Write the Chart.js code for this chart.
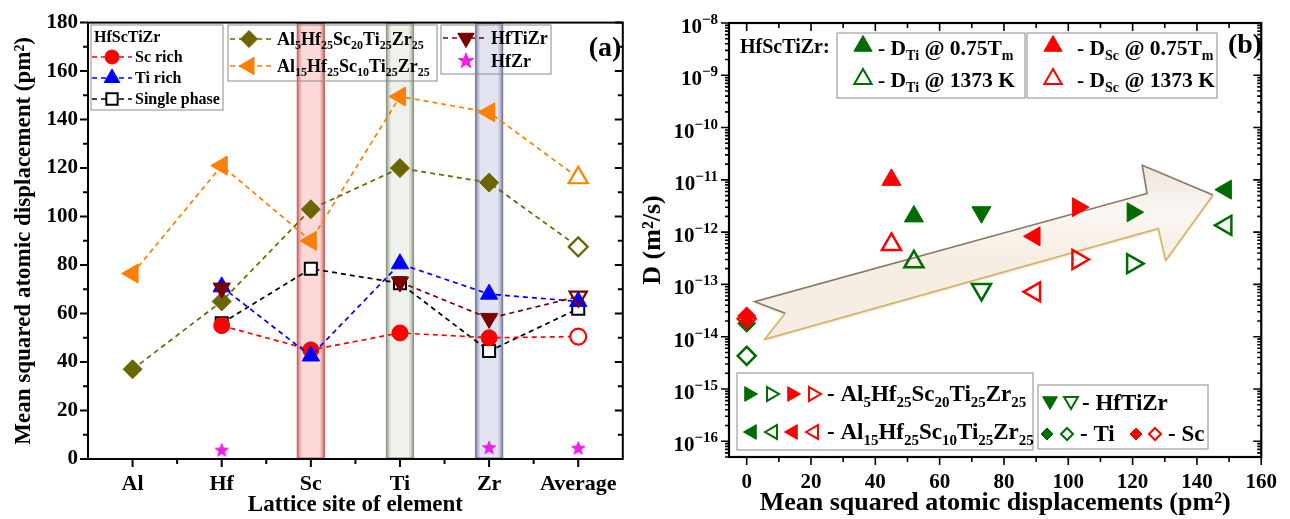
<!DOCTYPE html>
<html>
<head>
<meta charset="utf-8">
<title>MSD and diffusivity</title>
<script src="https://cdn.jsdelivr.net/npm/chart.js@4.4.1/dist/chart.umd.min.js"></script>
<style>
  html, body { margin: 0; padding: 0; background: #fff; }
  #wrap { position: relative; width: 1290px; height: 519px; overflow: hidden; }
  #boxLeft { position: absolute; left: 0; top: 0; width: 636px; height: 519px; }
  #boxRight { position: absolute; left: 636px; top: 0; width: 654px; height: 519px; }
</style>
</head>
<body>
<div id="wrap">
  <div id="boxLeft"><canvas id="msdChart"></canvas></div>
  <div id="boxRight"><canvas id="diffChart"></canvas></div>
</div>
<script>

/*****************************/
/************ DATA ***********/
/*****************************/

// panel (a) - mean squared atomic displacement per lattice site (pm^2)
var sites = ['Al', 'Hf', 'Sc', 'Ti', 'Zr', 'Average'];
var scRich      = [null, 55, 45, 52, 50, 50.5];
var tiRich      = [null, 71, 42.5, 80.5, 68, 65];
var singlePhase = [null, 56, 78.5, 72.5, 44.5, 62];
var al5Sc20     = [37, 65, 103, 120, 114, 87.5];
var al15Sc10    = [76.5, 121, 90, 149.5, 143, 116];
var hfTiZr      = [null, 70.5, null, 73, 58, 67];
var hfZr        = [null, 3.5, null, null, 4.5, 4.3];
var msdTicks    = [0, 20, 40, 60, 80, 100, 120, 140, 160, 180];

// panel (b) - diffusivity vs MSD
// Ti: HfScTiZr, Al5, Al15, HfTiZr, pure Ti
var msdTi   = [52, 120, 149, 73, 0];
var dTiTm   = [2.0e-12, 2.4e-12, 6.5e-12, 2.4e-12, 1.8e-14];
var dTi1373 = [2.7e-13, 2.5e-13, 1.35e-12, 8.0e-14, 4.3e-15];
// Sc: HfScTiZr, Al5, Al15, pure Sc
var msdSc   = [45, 103, 89.5, 0];
var dScTm   = [1.0e-11, 3.0e-12, 8.3e-13, 2.5e-14];
var dSc1373 = [5.8e-13, 3.0e-13, 7.2e-14, 2.2e-14];
var msdAxisTicks = [0, 20, 40, 60, 80, 100, 120, 140, 160];
var dExponents   = [-16, -15, -14, -13, -12, -11, -10, -9, -8];

/*****************************/
/*********** STYLE ***********/
/*****************************/

var serif = "'Liberation Serif', 'Times New Roman', serif";
var cRed = '#ff0000', cBlue = '#0000ff', cBlack = '#000000', cOlive = '#6b6700';
var cOrange = '#ff7f00', cMaroon = '#7a0000', cMagenta = '#ee1ee6', cGreen = '#006b00';

Chart.defaults.font.family = serif;
Chart.defaults.font.weight = 'bold';
Chart.defaults.color = '#000';
Chart.defaults.animation = false;

// marker drawing used by legends and by the star image
function drawMarker(ctx, shape, x, y, r, rot, fill, stroke, lw) {
  ctx.save();
  ctx.translate(x, y);
  ctx.rotate((rot || 0) * Math.PI / 180);
  ctx.beginPath();
  if (shape === 'circle') {
    ctx.arc(0, 0, r, 0, 2 * Math.PI);
  } else if (shape === 'triangle') {
    for (var k = 0; k < 3; k++) {
      var a = k * 2 * Math.PI / 3;
      if (k === 0) ctx.moveTo(Math.sin(a) * r, -Math.cos(a) * r);
      else ctx.lineTo(Math.sin(a) * r, -Math.cos(a) * r);
    }
  } else if (shape === 'rect') {
    var s = r * Math.SQRT1_2;
    ctx.rect(-s, -s, 2 * s, 2 * s);
  } else if (shape === 'rectRot') {
    ctx.moveTo(0, -r); ctx.lineTo(r, 0); ctx.lineTo(0, r); ctx.lineTo(-r, 0);
  } else if (shape === 'star') {
    for (var j = 0; j < 10; j++) {
      var rr = j % 2 === 0 ? r : r * 0.42;
      var b = j * Math.PI / 5;
      if (j === 0) ctx.moveTo(Math.sin(b) * rr, -Math.cos(b) * rr);
      else ctx.lineTo(Math.sin(b) * rr, -Math.cos(b) * rr);
    }
  }
  ctx.closePath();
  if (fill) { ctx.fillStyle = fill; ctx.fill(); }
  if (stroke) { ctx.strokeStyle = stroke; ctx.lineWidth = lw || 1; ctx.stroke(); }
  ctx.restore();
}

// text with subscripts written between braces, e.g. 'Al{5}Hf{25}'
function drawRich(ctx, str, x, yMid, size) {
  var parts = str.split(/(\{[^}]*\})/);
  var base = yMid + size * 0.32;
  ctx.textAlign = 'left';
  ctx.textBaseline = 'alphabetic';
  ctx.fillStyle = '#000';
  parts.forEach(function (p) {
    if (!p) return;
    var sub = p.charAt(0) === '{';
    var t = sub ? p.slice(1, -1) : p;
    var fs = sub ? Math.round(size * 0.66) : size;
    ctx.font = 'bold ' + fs + 'px ' + serif;
    ctx.fillText(t, x, sub ? base + size * 0.26 : base);
    x += ctx.measureText(t).width;
  });
}

function starImage(r, color) {
  var c = document.createElement('canvas');
  c.width = 2 * r + 2; c.height = 2 * r + 2;
  drawMarker(c.getContext('2d'), 'star', r + 1, r + 1, r, 0, color, color, 1);
  return c;
}

// fills: last point (Average) drawn open
function avgOpen(color, openFill) {
  return sites.map(function (s, i) { return i === sites.length - 1 ? (openFill || '#fff') : color; });
}
function avgOpenWidth() {
  return sites.map(function (s, i) { return i === sites.length - 1 ? 2.2 : 1; });
}

function lineSet(label, data, color, shape, radius, extra) {
  var ds = {
    label: label,
    data: data,
    borderColor: color,
    borderWidth: 1.7,
    borderDash: [5, 4],
    pointStyle: shape,
    pointRadius: radius,
    pointBorderColor: color,
    pointBackgroundColor: avgOpen(color),
    pointBorderWidth: avgOpenWidth(),
    spanGaps: false
  };
  for (var k in extra) ds[k] = extra[k];
  return ds;
}

/*****************************/
/********* PANEL (a) *********/
/*****************************/

var bands = [
  { site: 2, light: 'rgba(248,194,192,0.62)', edge: 'rgba(200,80,75,0.85)' },
  { site: 3, light: 'rgba(228,233,222,0.6)',  edge: 'rgba(130,140,118,0.85)' },
  { site: 4, light: 'rgba(210,214,233,0.65)', edge: 'rgba(105,110,150,0.85)' }
];

var panelAPlugin = {
  id: 'panelA',
  beforeDatasetsDraw: function (chart) {
    var ctx = chart.ctx, a = chart.chartArea, xs = chart.scales.x;
    bands.forEach(function (b) {
      var cx = xs.getPixelForValue(b.site), hw = 13.5;
      var g = ctx.createLinearGradient(cx - hw, 0, cx + hw, 0);
      g.addColorStop(0, b.edge); g.addColorStop(0.18, b.light);
      g.addColorStop(0.82, b.light); g.addColorStop(1, b.edge);
      ctx.save();
      ctx.fillStyle = g;
      ctx.fillRect(cx - hw, a.top + 1, 2 * hw, a.bottom - a.top - 2);
      ctx.strokeStyle = b.edge; ctx.lineWidth = 1.2;
      ctx.strokeRect(cx - hw, a.top + 1, 2 * hw, a.bottom - a.top - 2);
      ctx.restore();
    });
  },
  afterDraw: function (chart) {
    var ctx = chart.ctx, a = chart.chartArea, xs = chart.scales.x, ys = chart.scales.y;
    ctx.save();
    ctx.strokeStyle = '#000';
    ctx.lineWidth = 2;
    ctx.strokeRect(a.left, a.top, a.right - a.left, a.bottom - a.top);
    // y ticks: outward on the left, inward on the right
    ctx.beginPath();
    for (var v = 0; v <= 180; v += 10) {
      var y = ys.getPixelForValue(v), len = v % 20 === 0 ? 8 : 5;
      ctx.moveTo(a.left, y); ctx.lineTo(a.left - len, y);
      ctx.moveTo(a.right, y); ctx.lineTo(a.right - len, y);
    }
    // x ticks: centres long, boundaries short
    for (var i = 0; i < sites.length; i++) {
      var x = xs.getPixelForValue(i);
      ctx.moveTo(x, a.bottom); ctx.lineTo(x, a.bottom + 8);
      if (i < sites.length - 1) {
        var xb = (x + xs.getPixelForValue(i + 1)) / 2;
        ctx.moveTo(xb, a.bottom); ctx.lineTo(xb, a.bottom + 5);
      }
    }
    ctx.stroke();

    // legends
    ctx.strokeStyle = '#8a8a8a';
    ctx.lineWidth = 1;
    ctx.strokeRect(91, 25, 132, 85);
    ctx.strokeRect(228, 25, 209, 56);
    ctx.strokeRect(441, 25, 110, 49);
    ctx.fillStyle = '#000';
    ctx.font = 'bold 16px ' + serif;
    ctx.textBaseline = 'middle';
    ctx.fillText('HfScTiZr', 94, 38);

    var rows = [
      { c: cRed, s: 'circle', r: 7, rot: 0, y: 57, l0: 92, l1: 132, m: 112, t: 135, txt: 'Sc rich', fs: 16 },
      { c: cBlue, s: 'triangle', r: 9, rot: 0, y: 78, l0: 92, l1: 132, m: 112, t: 135, txt: 'Ti rich', fs: 16 },
      { c: cBlack, s: 'rect', r: 8, rot: 0, y: 99, l0: 92, l1: 132, m: 112, t: 135, txt: 'Single phase', fs: 16, open: true },
      { c: cOlive, s: 'rectRot', r: 8.5, rot: 0, y: 39, l0: 230, l1: 273, m: 249, t: 277, txt: 'Al{5}Hf{25}Sc{20}Ti{25}Zr{25}', fs: 18 },
      { c: cOrange, s: 'triangle', r: 10, rot: -90, y: 66, l0: 230, l1: 273, m: 249, t: 277, txt: 'Al{15}Hf{25}Sc{10}Ti{25}Zr{25}', fs: 18 },
      { c: cMaroon, s: 'triangle', r: 9.5, rot: 180, y: 38, l0: 443, l1: 487, m: 466, t: 491, txt: 'HfTiZr', fs: 18 },
      { c: cMagenta, s: 'star', r: 8, rot: 0, y: 61, l0: 0, l1: 0, m: 466, t: 491, txt: 'HfZr', fs: 18 }
    ];
    rows.forEach(function (row) {
      if (row.l1 > row.l0) {
        ctx.save();
        ctx.strokeStyle = row.c; ctx.lineWidth = 1.7; ctx.setLineDash([5, 4]);
        ctx.beginPath(); ctx.moveTo(row.l0, row.y); ctx.lineTo(row.l1, row.y); ctx.stroke();
        ctx.restore();
      }
      drawMarker(ctx, row.s, row.m, row.y, row.r, row.rot, row.open ? '#fff' : row.c, row.c, row.open ? 2 : 1);
      drawRich(ctx, row.txt, row.t, row.y, row.fs);
    });

    ctx.font = 'bold 28px ' + serif;
    ctx.textAlign = 'center';
    ctx.textBaseline = 'middle';
    ctx.fillText('(a)', 605, 49);
    ctx.restore();
  }
};

new Chart(document.getElementById('msdChart'), {
  type: 'line',
  data: {
    labels: sites,
    datasets: [
      lineSet('HfTiZr', hfTiZr, cMaroon, 'triangle', 10,
        { pointRotation: 180, pointBackgroundColor: avgOpen(cMaroon, 'rgba(255,255,255,0)') }),
      lineSet('Ti rich', tiRich, cBlue, 'triangle', 10,
        { pointBackgroundColor: cBlue, pointBorderWidth: 1 }),
      lineSet('Sc rich', scRich, cRed, 'circle', 8),
      lineSet('Single phase', singlePhase, cBlack, 'rect', 8.5,
        { pointBackgroundColor: '#fff', pointBorderWidth: 2 }),
      lineSet('Al5Hf25Sc20Ti25Zr25', al5Sc20, cOlive, 'rectRot', 9.5),
      lineSet('Al15Hf25Sc10Ti25Zr25', al15Sc10, cOrange, 'triangle', 11,
        { pointRotation: [-90, -90, -90, -90, -90, 0] }),
      { label: 'HfZr', data: hfZr, showLine: false, pointStyle: starImage(7, cMagenta),
        borderColor: cMagenta, backgroundColor: cMagenta }
    ]
  },
  options: {
    responsive: true,
    maintainAspectRatio: false,
    layout: { padding: { top: 22, right: 6, left: 0, bottom: 0 } },
    plugins: { legend: { display: false }, tooltip: { enabled: false } },
    scales: {
      x: {
        type: 'category',
        offset: true,
        grid: { display: false, drawTicks: false },
        border: { display: false },
        ticks: { font: { size: 22, weight: 'bold' }, padding: 12, color: '#000' },
        title: { display: true, text: 'Lattice site of element', font: { size: 23, weight: 'bold' }, padding: { top: 0, bottom: 0 }, color: '#000' },
        afterFit: function (scale) { scale.height = 60; }
      },
      y: {
        min: 0, max: 180,
        grid: { display: false, drawTicks: false },
        border: { display: false },
        afterBuildTicks: function (scale) {
          scale.ticks = msdTicks.map(function (v) { return { value: v }; });
        },
        ticks: { font: { size: 21, weight: 'bold' }, padding: 10, color: '#000' },
        title: { display: true, text: 'Mean squared atomic displacement (pm\u00b2)', font: { size: 23, weight: 'bold' }, padding: { top: 10, bottom: 0 }, color: '#000' },
        afterFit: function (scale) { scale.width = 88; }
      }
    }
  },
  plugins: [panelAPlugin]
});

/*****************************/
/********* PANEL (b) *********/
/*****************************/

function pts(xs, ys) {
  return xs.map(function (x, i) { return { x: x, y: ys[i] }; });
}

var tiShapes = ['triangle', 'triangle', 'triangle', 'triangle', 'rectRot'];
var tiRot = [0, 90, -90, 180, 0];
var tiRad = [11, 11, 11, 11, 9];
var scShapes = ['triangle', 'triangle', 'triangle', 'rectRot'];
var scRot = [0, 90, -90, 0];
var scRad = [11, 11, 11, 9];

// trend arrow outline in data units [msd, log10 D]
var arrowOutline = [[2.5, -13.33], [124.5, -11.26], [123, -10.72], [145, -11.29],
  [130.3, -12.54], [128, -11.93], [5.6, -14.05], [12, -13.55]];

var panelBPlugin = {
  id: 'panelB',
  beforeDatasetsDraw: function (chart) {
    var ctx = chart.ctx, xs = chart.scales.x, ys = chart.scales.y;
    var p = arrowOutline.map(function (q) {
      return [xs.getPixelForValue(q[0]), ys.getPixelForValue(Math.pow(10, q[1]))];
    });
    ctx.save();
    var g = ctx.createLinearGradient(0, p[2][1], 0, p[4][1]);
    g.addColorStop(0, '#efe6db'); g.addColorStop(0.5, '#faf6f1'); g.addColorStop(1, '#f6eee3');
    ctx.beginPath();
    p.forEach(function (q, i) { if (i === 0) ctx.moveTo(q[0], q[1]); else ctx.lineTo(q[0], q[1]); });
    ctx.closePath();
    ctx.shadowColor = 'rgba(110,90,60,0.35)'; ctx.shadowBlur = 3; ctx.shadowOffsetY = 1;
    ctx.fillStyle = g; ctx.fill();
    ctx.shadowColor = 'transparent';
    // top edges grey-brown, bottom edges golden
    ctx.lineWidth = 1.6;
    ctx.strokeStyle = '#877a68';
    ctx.beginPath(); ctx.moveTo(p[7][0], p[7][1]); ctx.lineTo(p[0][0], p[0][1]);
    ctx.lineTo(p[1][0], p[1][1]); ctx.lineTo(p[2][0], p[2][1]); ctx.lineTo(p[3][0], p[3][1]); ctx.stroke();
    ctx.strokeStyle = '#d6b25e';
    ctx.beginPath(); ctx.moveTo(p[3][0], p[3][1]); ctx.lineTo(p[4][0], p[4][1]);
    ctx.lineTo(p[5][0], p[5][1]); ctx.lineTo(p[6][0], p[6][1]); ctx.lineTo(p[7][0], p[7][1]); ctx.stroke();
    ctx.restore();
  },
  afterDraw: function (chart) {
    var ctx = chart.ctx, a = chart.chartArea, xs = chart.scales.x, ys = chart.scales.y;
    ctx.save();
    ctx.strokeStyle = '#000';
    ctx.lineWidth = 2.2;
    ctx.strokeRect(a.left, a.top, a.right - a.left, a.bottom - a.top);
    ctx.lineWidth = 1.6;
    ctx.beginPath();
    for (var v = 0; v <= 160; v += 10) {
      var x = xs.getPixelForValue(v), len = v % 20 === 0 ? 8 : 5;
      ctx.moveTo(x, a.bottom); ctx.lineTo(x, a.bottom + len);
      ctx.moveTo(x, a.top); ctx.lineTo(x, a.top + len);
    }
    for (var e = -17; e <= -8; e++) {
      for (var m = 1; m <= 9; m++) {
        var val = m * Math.pow(10, e);
        if (val < ys.min || val > ys.max * 1.0001) continue;
        var y = ys.getPixelForValue(val), l = m === 1 ? 8 : 4;
        ctx.moveTo(a.left, y); ctx.lineTo(a.left - l, y);
        ctx.moveTo(a.right, y); ctx.lineTo(a.right - l, y);
      }
    }
    ctx.stroke();

    // decade labels 10^n with a raised exponent, placed on the scale's ticks
    ctx.fillStyle = '#000';
    ctx.textBaseline = 'alphabetic';
    ys.ticks.forEach(function (t) {
      var ty = ys.getPixelForValue(t.value);
      var ex = '\u2212' + String(Math.abs(Math.round(Math.log10(t.value))));
      ctx.font = 'bold 15px ' + serif;
      var ew = ctx.measureText(ex).width;
      var xr = a.left - 11;
      ctx.textAlign = 'left';
      ctx.fillText(ex, xr - ew, ty + 1);
      ctx.font = 'bold 21px ' + serif;
      ctx.textAlign = 'right';
      ctx.fillText('10', xr - ew, ty + 10);
    });

    // legends (local canvas pixels)
    ctx.font = 'bold 20px ' + serif;
    ctx.textAlign = 'left';
    ctx.textBaseline = 'middle';
    ctx.fillText('HfScTiZr:', 104, 48);
    ctx.strokeStyle = '#8a8a8a';
    ctx.lineWidth = 1;
    ctx.strokeRect(201, 33, 188, 65);
    ctx.strokeRect(391, 33, 190, 65);
    ctx.strokeRect(101, 373, 296, 77);
    ctx.strokeRect(402, 385, 170, 64);

    var tr = 'rgba(0,0,0,0)';
    var marks = [
      [cGreen, 'triangle', 10.5, 0, true, 227, 46], [cGreen, 'triangle', 10, 0, false, 227, 79],
      [cRed, 'triangle', 10.5, 0, true, 417, 46], [cRed, 'triangle', 10, 0, false, 417, 79],
      [cGreen, 'triangle', 8.5, 90, true, 113, 394], [cGreen, 'triangle', 8, 90, false, 135, 394],
      [cRed, 'triangle', 8.5, 90, true, 156, 394], [cRed, 'triangle', 8, 90, false, 177, 394],
      [cGreen, 'triangle', 8.5, -90, true, 116, 432], [cGreen, 'triangle', 8, -90, false, 137, 432],
      [cRed, 'triangle', 8.5, -90, true, 157, 432], [cRed, 'triangle', 8, -90, false, 178, 432],
      [cGreen, 'triangle', 8.5, 180, true, 414, 401], [cGreen, 'triangle', 8, 180, false, 435, 401],
      [cGreen, 'rectRot', 6, 0, true, 411, 434], [cGreen, 'rectRot', 6, 0, false, 431, 434],
      [cRed, 'rectRot', 6, 0, true, 500, 434], [cRed, 'rectRot', 6, 0, false, 519, 434]
    ];
    marks.forEach(function (k) {
      drawMarker(ctx, k[1], k[5], k[6], k[2], k[3], k[4] ? k[0] : tr, k[0], k[4] ? 1 : 2);
    });
    var texts = [
      ['- D{Ti} @ 0.75T{m}', 242, 48, 21.5], ['- D{Ti} @ 1373 K', 242, 80, 21.5],
      ['- D{Sc} @ 0.75T{m}', 441, 48, 21.5], ['- D{Sc} @ 1373 K', 441, 80, 21.5],
      ['- Al{5}Hf{25}Sc{20}Ti{25}Zr{25}', 191, 394, 23], ['- Al{15}Hf{25}Sc{10}Ti{25}Zr{25}', 191, 432, 23],
      ['- HfTiZr', 446, 403, 23], ['- Ti', 444, 434, 23], ['- Sc', 532, 434, 23]
    ];
    texts.forEach(function (t) { drawRich(ctx, t[0], t[1], t[2], t[3]); });

    ctx.font = 'bold 28px ' + serif;
    ctx.textAlign = 'center';
    ctx.textBaseline = 'middle';
    ctx.fillText('(b)', 609, 46);
    ctx.restore();
  }
};

function scatterSet(label, data, color, shapes, rot, rad, open) {
  return {
    label: label,
    data: data,
    showLine: false,
    pointStyle: shapes,
    pointRotation: rot,
    pointRadius: rad,
    pointBorderColor: color,
    pointBackgroundColor: open ? 'rgba(0,0,0,0)' : color,
    pointBorderWidth: open ? 2.5 : 1
  };
}

new Chart(document.getElementById('diffChart'), {
  type: 'scatter',
  data: {
    datasets: [
      scatterSet('D_Sc @ 0.75Tm', pts(msdSc, dScTm), cRed, scShapes, scRot, scRad, false),
      scatterSet('D_Sc @ 1373 K', pts(msdSc, dSc1373), cRed, scShapes, scRot, scRad, true),
      scatterSet('D_Ti @ 0.75Tm', pts(msdTi, dTiTm), cGreen, tiShapes, tiRot, tiRad, false),
      scatterSet('D_Ti @ 1373 K', pts(msdTi, dTi1373), cGreen, tiShapes, tiRot, tiRad, true)
    ]
  },
  options: {
    responsive: true,
    maintainAspectRatio: false,
    layout: { padding: { top: 23, right: 18, left: 0, bottom: 0 } },
    plugins: { legend: { display: false }, tooltip: { enabled: false } },
    scales: {
      x: {
        type: 'linear',
        min: -5.5, max: 160,
        grid: { display: false, drawTicks: false },
        border: { display: false },
        afterBuildTicks: function (scale) {
          scale.ticks = msdAxisTicks.map(function (v) { return { value: v }; });
        },
        ticks: { font: { size: 21, weight: 'bold' }, padding: 13, color: '#000' },
        title: { display: true, text: 'Mean squared atomic displacements (pm\u00b2)', font: { size: 26, weight: 'bold' }, padding: { top: 0, bottom: 0 }, color: '#000' },
        afterFit: function (scale) { scale.height = 62; }
      },
      y: {
        type: 'logarithmic',
        min: 5e-17, max: 1e-8,
        grid: { display: false, drawTicks: false },
        border: { display: false },
        afterBuildTicks: function (scale) {
          scale.ticks = dExponents.map(function (e) { return { value: Math.pow(10, e) }; });
        },
        ticks: { display: false },
        title: { display: true, text: 'D (m\u00b2/s)', font: { size: 26, weight: 'bold' }, padding: { top: 2, bottom: 0 }, color: '#000' },
        afterFit: function (scale) { scale.width = 93; }
      }
    }
  },
  plugins: [panelBPlugin]
});

</script>
</body>
</html>
